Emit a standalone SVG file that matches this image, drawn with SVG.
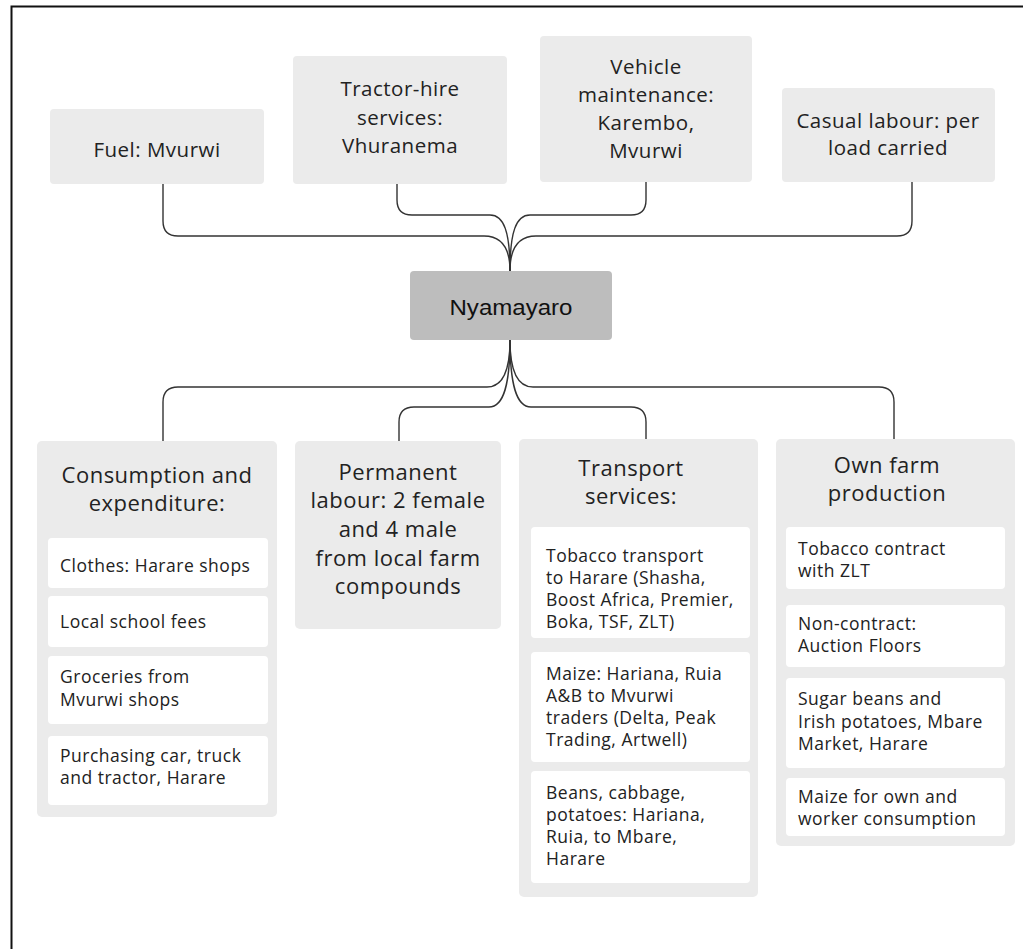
<svg xmlns="http://www.w3.org/2000/svg" width="1023" height="949" viewBox="0 0 1023 949">
  <style>
    .bg { fill: #ffffff; }
    .frame { fill: none; stroke: #111; stroke-width: 2; }
    .box { fill: #ebebeb; }
    .root { fill: #bdbdbd; }
    .item { fill: #ffffff; }
    .link { fill: none; stroke: #333; stroke-width: 1.4; }
    text { font-family: "Open Sans", "Noto Sans", sans-serif; fill: #222; }
    .t1 { font-size: 20.5px; letter-spacing: 0.5px; text-anchor: middle; }
    .t2 { font-size: 22px; letter-spacing: 0.5px; text-anchor: middle; }
    .t3 { font-size: 17.5px; letter-spacing: 0.5px; }
    .tr { font-family: "Liberation Sans", Arial, sans-serif; font-size: 22px; text-anchor: middle; fill: #111; }
  </style>

  <rect class="bg" x="0" y="0" width="1023" height="949"/>
  <!-- outer frame, open on the right and bottom -->
  <path class="frame" d="M1023,6.5 H11.5 V949"/>

  <!-- connectors -->
  <g id="connectors">
    <path class="link" d="M163,184 V221 Q163,236 178,236 H484 C502,236 510,248 510,271"/>
    <path class="link" d="M912,182 V221 Q912,236 897,236 H536 C518,236 510,248 510,271"/>
    <path class="link" d="M397,184 V200 Q397,215 412,215 H490 C504,215 510,232 510,271"/>
    <path class="link" d="M646,182 V200 Q646,215 631,215 H530 C516,215 510,232 510,271"/>
    <path class="link" d="M510,340 C510,368 504,387 487,387 H178 Q163,387 163,402 V441"/>
    <path class="link" d="M510,340 C510,368 516,387 533,387 H879 Q894,387 894,402 V439"/>
    <path class="link" d="M510,340 C510,384 504,407 489,407 H414 Q399,407 399,422 V441"/>
    <path class="link" d="M510,340 C510,384 516,407 531,407 H631 Q646,407 646,422 V439"/>
  </g>

  <g id="fuel">
    <rect class="box" x="50" y="109" width="214" height="75" rx="4"/>
    <text class="t1" x="157" y="157">Fuel: Mvurwi</text>
  </g>

  <g id="tractor-hire">
    <rect class="box" x="293" y="56" width="214" height="128" rx="4"/>
    <text class="t1" x="400" y="96">Tractor-hire</text>
    <text class="t1" x="400" y="125">services:</text>
    <text class="t1" x="400" y="153">Vhuranema</text>
  </g>

  <g id="vehicle-maintenance">
    <rect class="box" x="540" y="36" width="212" height="146" rx="4"/>
    <text class="t1" x="646" y="74">Vehicle</text>
    <text class="t1" x="646" y="102">maintenance:</text>
    <text class="t1" x="646" y="130">Karembo,</text>
    <text class="t1" x="646" y="158">Mvurwi</text>
  </g>

  <g id="casual-labour">
    <rect class="box" x="782" y="88" width="213" height="94" rx="4"/>
    <text class="t1" x="888" y="128">Casual labour: per</text>
    <text class="t1" x="888" y="155">load carried</text>
  </g>

  <g id="nyamayaro">
    <rect class="root" x="410" y="271" width="202" height="69" rx="4"/>
    <text class="tr" x="511" y="315" textLength="123" lengthAdjust="spacingAndGlyphs">Nyamayaro</text>
  </g>

  <g id="consumption">
    <rect class="box" x="37" y="441" width="240" height="376" rx="5"/>
    <text class="t2" x="157" y="483">Consumption and</text>
    <text class="t2" x="157" y="511">expenditure:</text>
    <rect class="item" x="48" y="538" width="220" height="50" rx="4"/>
    <text class="t3" x="60" y="572">Clothes: Harare shops</text>
    <rect class="item" x="48" y="596" width="220" height="51" rx="4"/>
    <text class="t3" x="60" y="628">Local school fees</text>
    <rect class="item" x="48" y="656" width="220" height="68" rx="4"/>
    <text class="t3" x="60" y="683">Groceries from</text>
    <text class="t3" x="60" y="706">Mvurwi shops</text>
    <rect class="item" x="48" y="736" width="220" height="69" rx="4"/>
    <text class="t3" x="60" y="762">Purchasing car, truck</text>
    <text class="t3" x="60" y="784">and tractor, Harare</text>
  </g>

  <g id="permanent-labour">
    <rect class="box" x="295" y="441" width="206" height="188" rx="5"/>
    <text class="t2" x="398" y="480">Permanent</text>
    <text class="t2" x="398" y="508">labour: 2 female</text>
    <text class="t2" x="398" y="537">and 4 male</text>
    <text class="t2" x="398" y="566">from local farm</text>
    <text class="t2" x="398" y="594">compounds</text>
  </g>

  <g id="transport">
    <rect class="box" x="519" y="439" width="239" height="458" rx="5"/>
    <text class="t2" x="631" y="476">Transport</text>
    <text class="t2" x="631" y="504">services:</text>
    <rect class="item" x="531" y="527" width="219" height="111" rx="4"/>
    <text class="t3" x="546" y="562">Tobacco transport</text>
    <text class="t3" x="546" y="584">to Harare (Shasha,</text>
    <text class="t3" x="546" y="606">Boost Africa, Premier,</text>
    <text class="t3" x="546" y="628">Boka, TSF, ZLT)</text>
    <rect class="item" x="531" y="652" width="219" height="110" rx="4"/>
    <text class="t3" x="546" y="680">Maize: Hariana, Ruia</text>
    <text class="t3" x="546" y="702">A&amp;B to Mvurwi</text>
    <text class="t3" x="546" y="724">traders (Delta, Peak</text>
    <text class="t3" x="546" y="746">Trading, Artwell)</text>
    <rect class="item" x="531" y="771" width="219" height="112" rx="4"/>
    <text class="t3" x="546" y="799">Beans, cabbage,</text>
    <text class="t3" x="546" y="821">potatoes: Hariana,</text>
    <text class="t3" x="546" y="843">Ruia, to Mbare,</text>
    <text class="t3" x="546" y="865">Harare</text>
  </g>

  <g id="own-farm">
    <rect class="box" x="776" y="439" width="239" height="407" rx="5"/>
    <text class="t2" x="887" y="473">Own farm</text>
    <text class="t2" x="887" y="501">production</text>
    <rect class="item" x="786" y="527" width="219" height="62" rx="4"/>
    <text class="t3" x="798" y="555">Tobacco contract</text>
    <text class="t3" x="798" y="577">with ZLT</text>
    <rect class="item" x="786" y="605" width="219" height="62" rx="4"/>
    <text class="t3" x="798" y="630">Non-contract:</text>
    <text class="t3" x="798" y="652">Auction Floors</text>
    <rect class="item" x="786" y="678" width="219" height="90" rx="4"/>
    <text class="t3" x="798" y="705">Sugar beans and</text>
    <text class="t3" x="798" y="728">Irish potatoes, Mbare</text>
    <text class="t3" x="798" y="750">Market, Harare</text>
    <rect class="item" x="786" y="778" width="219" height="58" rx="4"/>
    <text class="t3" x="798" y="803">Maize for own and</text>
    <text class="t3" x="798" y="825">worker consumption</text>
  </g>
</svg>
